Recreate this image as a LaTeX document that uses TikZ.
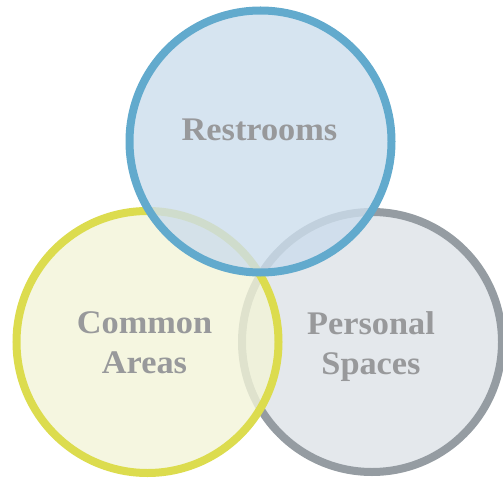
\documentclass[tikz,border=0pt]{standalone}
\usepackage{fontspec}
\newfontfamily\labelfont{Liberation Serif}[FakeStretch=1.04]
\definecolor{roomblue}{HTML}{62AACD}
\definecolor{roombluefill}{HTML}{CCDDEC}
\definecolor{areayellow}{HTML}{DCDC4E}
\definecolor{areayellowfill}{HTML}{F2F4D8}
\definecolor{spacegray}{HTML}{959CA2}
\definecolor{spacegrayfill}{HTML}{DDE2E7}
\definecolor{labelgray}{HTML}{98999B}
\tikzset{
  ring/.style={line width=8pt, fill opacity=0.8},
  tag/.style={text=labelgray, align=center, font=\labelfont\bfseries\fontsize{33}{40}\selectfont}
}

\begin{document}
\begin{tikzpicture}[x=1pt, y=-1pt]
\useasboundingbox (0, 0) rectangle (503, 481);
\draw[ring, draw=spacegray, fill=spacegrayfill] (372, 342) circle (130);
\draw[ring, draw=areayellow, fill=areayellowfill] (147.5, 342) circle (131);
\draw[ring, draw=roomblue, fill=roombluefill] (260.5, 141.5) circle (131);
\node[tag, anchor=base] (restrooms) at (259.5, 141){Restrooms};
\node[tag] (common) at (144.5, 343){Common\\Areas};
\node[tag] (personal) at (371, 347){Personal\\Spaces};
\end{tikzpicture}
\end{document}
